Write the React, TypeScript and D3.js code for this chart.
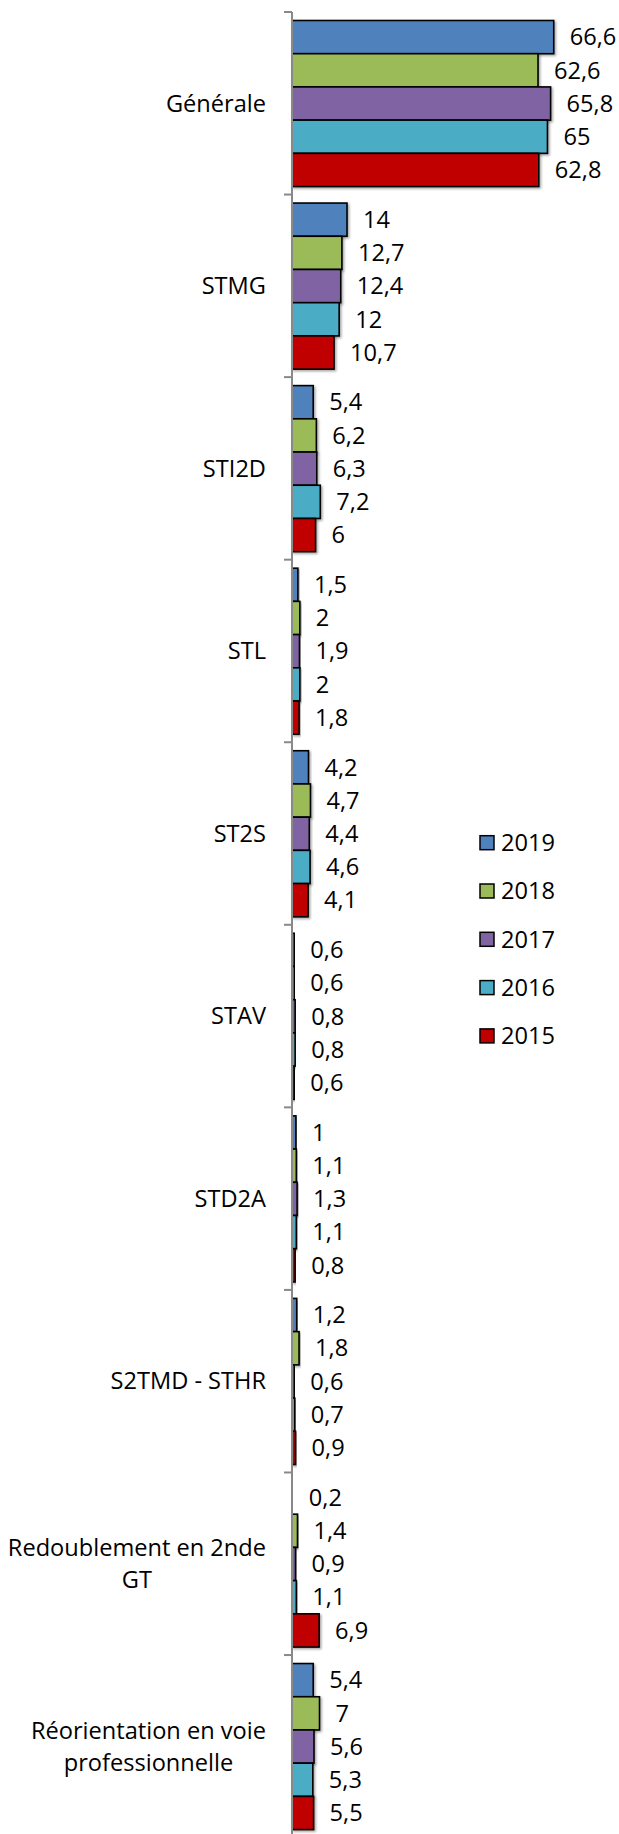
import React, { useRef, useEffect } from "react";
import * as d3 from "d3";

const categories = [
  "Générale",
  "STMG",
  "STI2D",
  "STL",
  "ST2S",
  "STAV",
  "STD2A",
  "S2TMD - STHR",
  "Redoublement en 2nde\nGT",
  "Réorientation en voie\nprofessionnelle",
];

const years = ["2019", "2018", "2017", "2016", "2015"];
const colors = ["#4F81BD", "#9BBB59", "#8064A2", "#4BACC6", "#C00000"];

const v2019 = [66.6, 14, 5.4, 1.5, 4.2, 0.6, 1, 1.2, 0.2, 5.4];
const v2018 = [62.6, 12.7, 6.2, 2, 4.7, 0.6, 1.1, 1.8, 1.4, 7];
const v2017 = [65.8, 12.4, 6.3, 1.9, 4.4, 0.8, 1.3, 0.6, 0.9, 5.6];
const v2016 = [65, 12, 7.2, 2, 4.6, 0.8, 1.1, 0.7, 1.1, 5.3];
const v2015 = [62.8, 10.7, 6, 1.8, 4.1, 0.6, 0.8, 0.9, 6.9, 5.5];

const series = [v2019, v2018, v2017, v2016, v2015];

const W = 619;
const H = 1834;
const FONT = "'Open Sans', sans-serif";
const FS = 23.6;

function App() {
  const ref = useRef(null);

  useEffect(() => {
    const svg = d3.select(ref.current);
    svg.selectAll("*").remove();

    const defs = svg.append("defs");
    defs
      .append("filter")
      .attr("id", "shadow")
      .attr("x", "-10%")
      .attr("y", "-10%")
      .attr("width", "130%")
      .attr("height", "140%")
      .append("feDropShadow")
      .attr("dx", 1.5)
      .attr("dy", 1.5)
      .attr("stdDeviation", 1)
      .attr("flood-color", "#000")
      .attr("flood-opacity", 0.35);

    const axisX = 292;
    const x = d3.scaleLinear().domain([0, 70]).range([axisX, axisX + 70 * 3.93]);
    const y = d3
      .scaleBand()
      .domain(categories)
      .range([12, 12 + 182.56 * categories.length])
      .paddingInner(0)
      .paddingOuter(0);
    const inner = d3
      .scaleBand()
      .domain(years)
      .range([8.5, y.bandwidth() - 8]);

    const g = svg.append("g");

    categories.forEach((cat, i) => {
      const cg = g.append("g").attr("transform", `translate(0,${y(cat)})`);
      years.forEach((yr, j) => {
        const val = series[j][i];
        cg.append("rect")
          .attr("x", x(0))
          .attr("y", inner(yr))
          .attr("width", x(val) - x(0))
          .attr("height", inner.bandwidth())
          .attr("fill", colors[j])
          .attr("stroke", "#000")
          .attr("stroke-width", 1.6)
          .attr("filter", "url(#shadow)");
        cg.append("text")
          .attr("x", x(val) + 16)
          .attr("y", inner(yr) + inner.bandwidth() / 2)
          .attr("dy", "0.35em")
          .attr("font-family", FONT)
          .attr("font-size", FS)
          .attr("fill", "#000")
          .text(String(val).replace(".", ","));
      });

      // category label: lines centered inside a block that ends at x=266
      const lines = cat.split("\n");
      const cy = y(cat) + y.bandwidth() / 2;
      const lg = g.append("g");
      const texts = lines.map((ln, k) =>
        lg
          .append("text")
          .attr("y", cy + (k - (lines.length - 1) / 2) * 32)
          .attr("dy", "0.35em")
          .attr("font-family", FONT)
          .attr("font-size", FS)
          .attr("fill", "#000")
          .attr("text-anchor", "middle")
          .text(ln)
      );
      const widths = texts.map((t) => (t.node() as SVGTextElement).getComputedTextLength());
      const maxW = d3.max(widths) || 0;
      texts.forEach((t) => t.attr("x", 266 - maxW / 2));
    });

    // axis
    const ag = svg.append("g");
    ag.append("line")
      .attr("x1", axisX)
      .attr("x2", axisX)
      .attr("y1", 12)
      .attr("y2", H)
      .attr("stroke", "#898989")
      .attr("stroke-width", 2);
    categories.forEach((cat) => {
      ag.append("line")
        .attr("x1", axisX - 8)
        .attr("x2", axisX)
        .attr("y1", y(cat))
        .attr("y2", y(cat))
        .attr("stroke", "#898989")
        .attr("stroke-width", 2);
    });

    // legend
    const leg = svg.append("g");
    years.forEach((yr, j) => {
      const ly = 842.7 + j * 48.3;
      leg.append("rect")
        .attr("x", 480)
        .attr("y", ly - 7)
        .attr("width", 14)
        .attr("height", 14)
        .attr("fill", colors[j])
        .attr("stroke", "#000")
        .attr("stroke-width", 1.5);
      leg.append("text")
        .attr("x", 501)
        .attr("y", ly)
        .attr("dy", "0.35em")
        .attr("font-family", FONT)
        .attr("font-size", FS)
        .attr("fill", "#000")
        .text(yr);
    });
  }, []);

  return (
    <svg
      ref={ref}
      width={W}
      height={H}
      style={{ position: "absolute", left: 0, top: 0, background: "#fff" }}
    ></svg>
  );
}

export default App;
